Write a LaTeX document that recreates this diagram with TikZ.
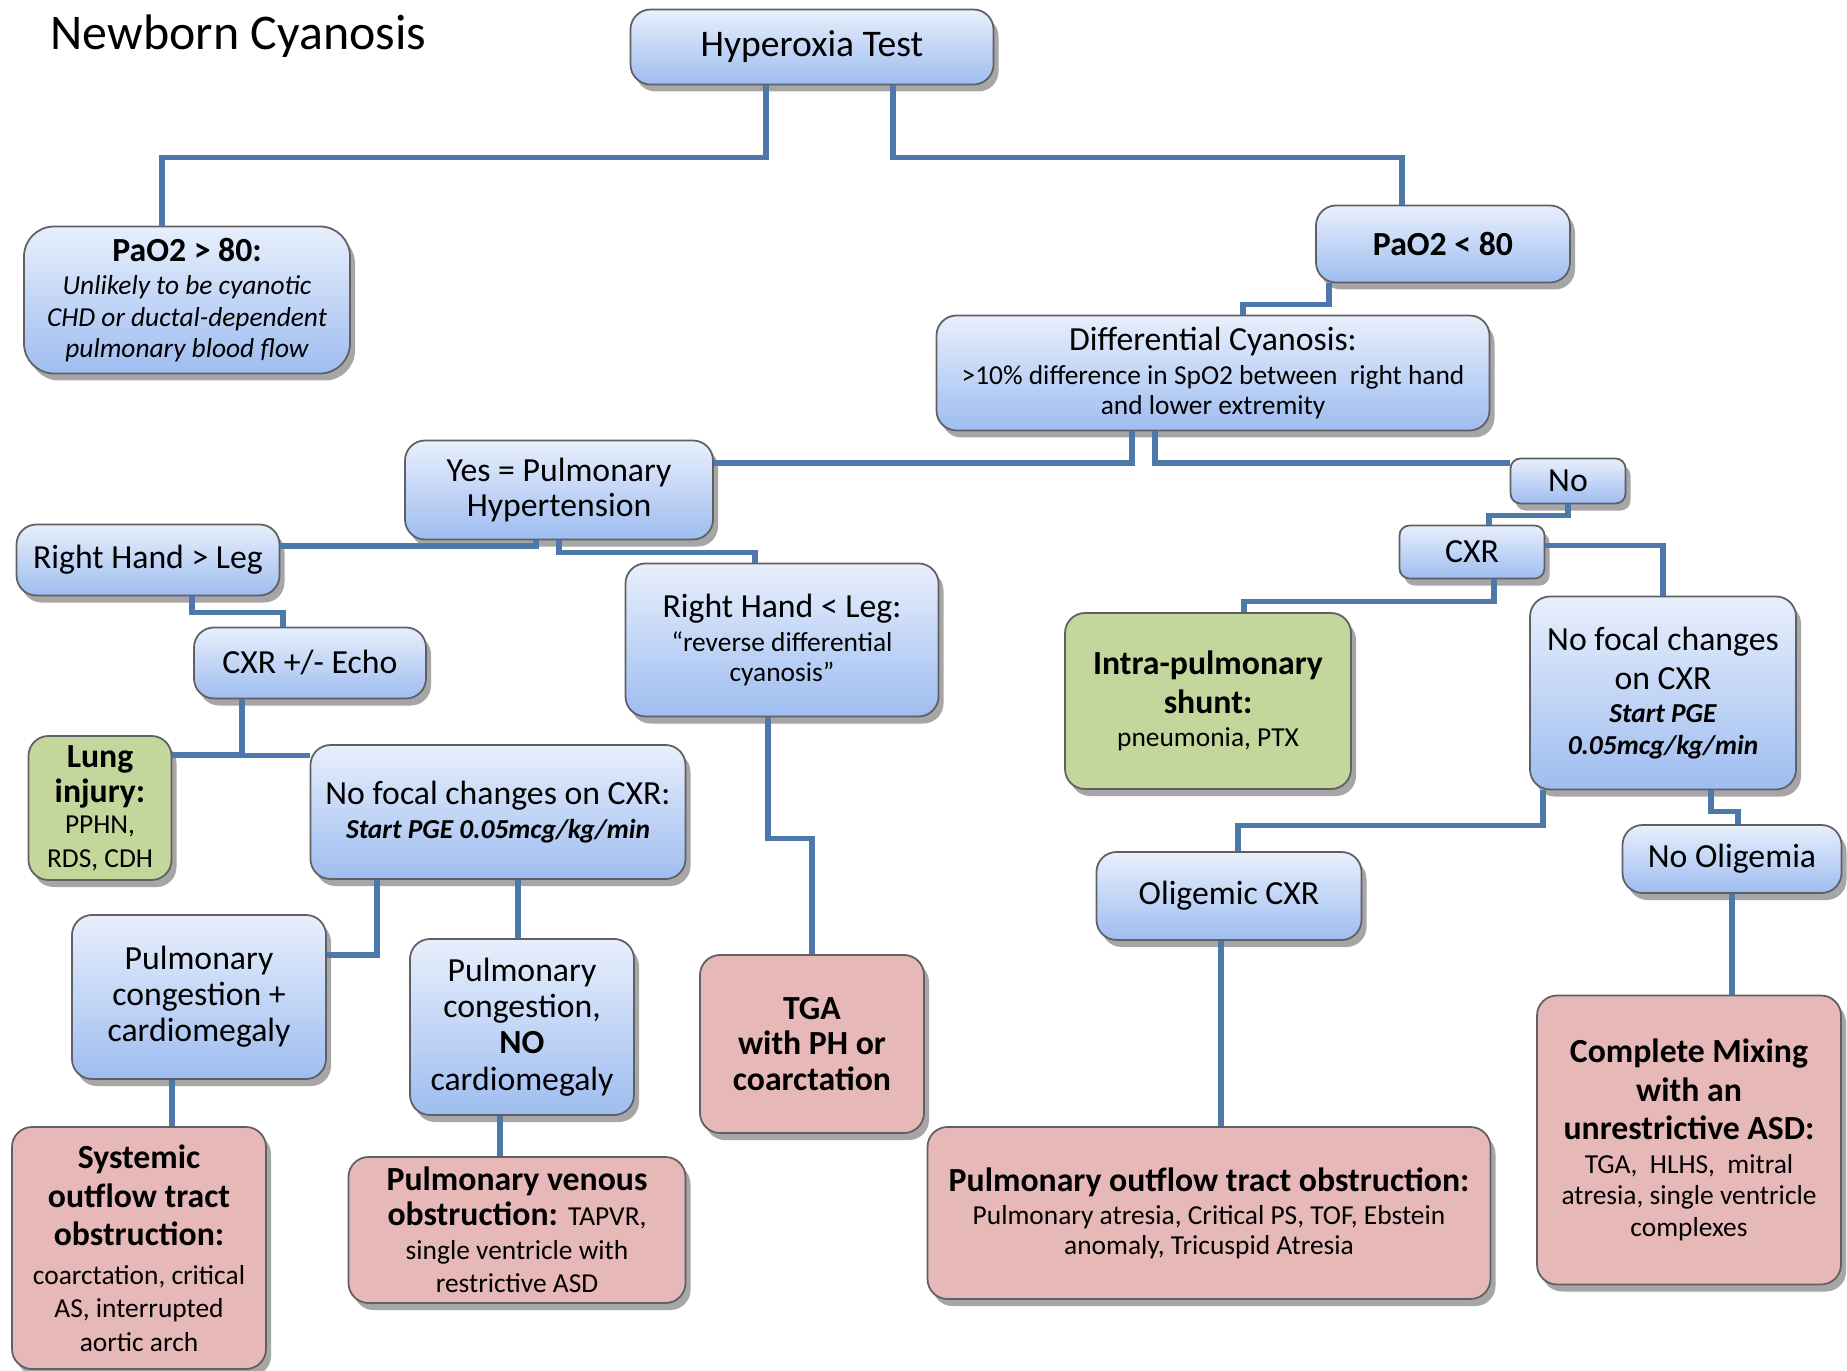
\documentclass[tikz,border=0pt]{standalone}
\usepackage{fontspec}
\setmainfont{Carlito}
\usepackage{xcolor}
\usepackage{tikz}
\usetikzlibrary{shadows, calc}

\definecolor{boxtop}{RGB}{232,239,252}
\definecolor{boxbot}{RGB}{158,189,240}
\definecolor{redfill}{RGB}{230,184,183}
\definecolor{greenfill}{RGB}{195,214,155}
\definecolor{linecol}{RGB}{76,120,170}
\definecolor{edgecol}{RGB}{95,95,100}

\newcommand{\fsbig}{\fontsize{10.7}{12.5}\selectfont}
\newcommand{\fsmain}{\fontsize{9.6}{11}\selectfont}
\newcommand{\fshead}{\fontsize{9.6}{11}\selectfont\bfseries}
\newcommand{\fssub}{\fontsize{7.8}{9.2}\selectfont}
\newcommand{\subt}[1]{{\fssub\mdseries\upshape #1}}
\newcommand{\subi}[1]{{\fssub\mdseries\itshape #1}}
\newcommand{\subb}[1]{{\fssub\bfseries\itshape #1}}

\begin{document}
\begin{tikzpicture}[
    base/.style={draw=edgecol, line width=0.5pt, rounded corners=2mm, align=center, inner sep=2pt,
        drop shadow={shadow xshift=0.5mm, shadow yshift=-0.7mm, opacity=0.35, fill=black}},
    box/.style={base, top color=boxtop, bottom color=boxbot, font=\fsmain},
    diag/.style={base, fill=redfill, font=\fshead},
    lungdx/.style={base, fill=greenfill, font=\fshead},
    sz/.style 2 args={minimum width=#1cm, minimum height=#2cm},
    link/.style={draw=linecol, line width=1.5pt}
]
    \useasboundingbox (0,0) rectangle (18.47,13.70);

    % === Title and test ===
    \node[font=\fontsize{14.2}{16}\selectfont, anchor=west, inner sep=0pt] (title) at (0.5,13.34) {Newborn Cyanosis};
    \node[box, sz={3.63}{0.75}, font=\fsbig] (hyper) at (8.12,13.23) {Hyperoxia Test};

    \node[box, sz={3.26}{1.47}, rounded corners=3mm] (pahi) at (1.87,10.70)
        {\textbf{PaO2 > 80:}\\[-1.5pt]\subi{Unlikely to be cyanotic}\\[-2pt]\subi{CHD or ductal-dependent}\\[-2pt]\subi{pulmonary blood flow}};
    \node[box, sz={2.54}{0.77}, font=\fshead] (palo) at (14.43,11.26) {PaO2 < 80};
    \node[box, sz={5.53}{1.15}] (diff) at (12.13,9.97)
        {Differential Cyanosis:\\[-1.5pt]\subt{>10\% difference in SpO2 between \ right hand}\\[-2.5pt]\subt{and lower extremity}};

    % === Pulmonary hypertension branch ===
    \node[box, sz={3.08}{0.99}] (yes) at (5.59,8.80) {Yes = Pulmonary\\[-1pt]Hypertension};
    \node[box, sz={2.63}{0.71}] (rgtleg) at (1.48,8.10) {Right Hand > Leg};
    \node[box, sz={2.32}{0.71}] (echo) at (3.10,7.07) {CXR +/- Echo};
    \node[box, sz={3.13}{1.53}] (ltleg) at (7.82,7.30)
        {Right Hand < Leg:\\[-1.5pt]\subt{``reverse differential}\\[-2.5pt]\subt{cyanosis''}};
    \node[lungdx, sz={1.43}{1.44}] (lung) at (1.00,5.62)
        {Lung\\[-1pt]injury:\\[-2pt]\subt{PPHN,}\\[-1.5pt]\subt{RDS, CDH}};
    \node[box, sz={3.75}{1.34}] (nofocl) at (4.98,5.58)
        {No focal changes on CXR:\\[-1.5pt]\subb{Start PGE 0.05mcg/kg/min}};
    \node[box, sz={2.54}{1.64}] (congcm) at (1.99,3.73) {Pulmonary\\[-0.8pt]congestion +\\[-0.8pt]cardiomegaly};
    \node[box, sz={2.24}{1.76}] (congno) at (5.22,3.43) {Pulmonary\\[-0.7pt]congestion,\\[-0.7pt]\textbf{NO}\\[-0.7pt]cardiomegaly};
    \node[diag, sz={2.24}{1.78}] (tga) at (8.12,3.26) {TGA\\[-0.8pt]with PH or\\[-0.8pt]coarctation};
    \node[diag, sz={2.54}{2.42}] (sysobs) at (1.39,1.22)
        {Systemic\\outflow tract\\obstruction:\\\subt{coarctation, critical}\\[-1.5pt]\subt{AS, interrupted}\\[-1.5pt]\subt{aortic arch}};
    \node[diag, sz={3.37}{1.46}] (venobs) at (5.17,1.40)
        {Pulmonary venous\\[-1pt]obstruction: \subt{TAPVR,}\\[-1.5pt]\subt{single ventricle with}\\[-1.5pt]\subt{restrictive ASD}};

    % === No differential cyanosis branch ===
    \node[box, sz={1.15}{0.45}, rounded corners=1mm] (no) at (15.68,8.89) {No};
    \node[box, sz={1.45}{0.53}, rounded corners=1mm] (cxr) at (14.72,8.18) {CXR};
    \node[lungdx, sz={2.86}{1.76}] (shunt) at (12.08,6.69)
        {Intra-pulmonary\\shunt:\\[-1.5pt]\subt{pneumonia, PTX}};
    \node[box, sz={2.66}{1.93}] (nofocr) at (16.63,6.77)
        {No focal changes\\on CXR\\[-1.5pt]\subb{Start PGE}\\[-2pt]\subb{0.05mcg/kg/min}};
    \node[box, sz={2.65}{0.88}] (olig) at (12.29,4.74) {Oligemic CXR};
    \node[box, sz={2.19}{0.68}] (noolig) at (17.32,5.11) {No Oligemia};
    \node[diag, sz={5.63}{1.72}] (pulobs) at (12.09,1.57)
        {Pulmonary outflow tract obstruction:\\[-1.5pt]\subt{Pulmonary atresia, Critical PS, TOF, Ebstein}\\[-2.5pt]\subt{anomaly, Tricuspid Atresia}};
    \node[diag, sz={3.04}{2.89}] (mixing) at (16.89,2.30)
        {Complete Mixing\\with an\\unrestrictive ASD:\\[-1.5pt]\subt{TGA, \ HLHS, \ mitral}\\[-2pt]\subt{atresia, single ventricle}\\[-2pt]\subt{complexes}};

    % === Connectors ===
    \draw[link] ([xshift=-4.6mm]hyper.south) -- ++(0,-0.72) -| ([xshift=-2.5mm]pahi.north);
    \draw[link] ([xshift=8.1mm]hyper.south) -- ++(0,-0.72) -| ([xshift=-4.1mm]palo.north);
    \draw[link] ([xshift=-11.4mm]palo.south) -- ++(0,-0.21) -| ([xshift=3mm]diff.north);
    \draw[link] ([xshift=-8.1mm]diff.south) |- ([yshift=2.7mm]yes.east);
    \draw[link] ([xshift=-5.8mm]diff.south) |- ([yshift=1.8mm]no.west);

    \draw[link] ([xshift=-2.3mm]yes.south) |- ([yshift=1.4mm]rgtleg.east);
    \draw[link] (yes.south) -- ++(0,-0.12) -| ([xshift=-2.7mm]ltleg.north);
    \draw[link] ([xshift=4.4mm]rgtleg.south) -- ++(0,-0.16) -| ([xshift=-2.7mm]echo.north);
    \draw[link] ([xshift=-6.8mm]echo.south) |- ([yshift=5.3mm]lung.east);
    \draw[link] ([xshift=-6.8mm]echo.south) |- ([yshift=5.65mm]nofocl.west);
    \draw[link] ([xshift=-12.1mm]nofocl.south) |- ([yshift=4.2mm]congcm.east);
    \draw[link] ([xshift=2mm]nofocl.south) -- ([xshift=2mm]nofocl.south |- congno.north);
    \draw[link] ([xshift=-1.4mm]ltleg.south) -- ++(0,-1.21) -| (tga.north);
    \draw[link] ([xshift=-2.7mm]congcm.south) -- ([xshift=-2.7mm]congcm.south |- sysobs.north);
    \draw[link] ([xshift=-2.2mm]congno.south) -- ([xshift=-2.2mm]congno.south |- venobs.north);

    \draw[link] (no.south) -- ++(0,-0.11) -| ([xshift=1.7mm]cxr.north);
    \draw[link] ([xshift=2.2mm]cxr.south) -- ++(0,-0.22) -| ([xshift=3.6mm]shunt.north);
    \draw[link] ([yshift=0.65mm]cxr.east) -| (nofocr.north);
    \draw[link] ([xshift=-12mm]nofocr.south) -- ++(0,-0.35) -| ([xshift=0.9mm]olig.north);
    \draw[link] ([xshift=4.8mm]nofocr.south) -- ++(0,-0.21) -| ([xshift=0.6mm]noolig.north);
    \draw[link] ([xshift=-0.8mm]olig.south) -- ([xshift=-0.8mm]olig.south |- pulobs.north);
    \draw[link] (noolig.south) -- (noolig.south |- mixing.north);
\end{tikzpicture}
\end{document}
